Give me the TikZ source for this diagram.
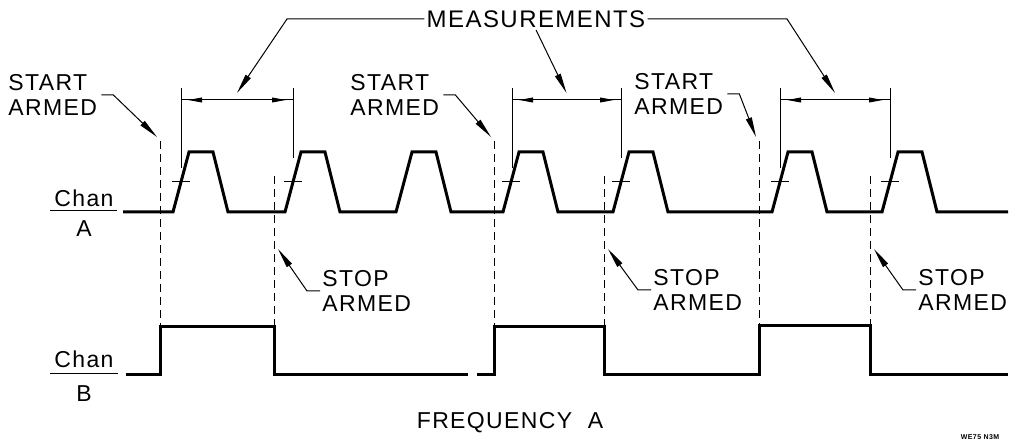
\documentclass[tikz,border=0pt]{standalone}
\usepackage{fontspec}
\setmainfont{Liberation Sans}[LetterSpace=6]
\usetikzlibrary{arrows.meta,positioning}

\begin{document}
\begin{tikzpicture}[
    x=0.5pt, y=-0.5pt,
    font=\fontsize{11.5}{12.5}\selectfont,
    wave/.style={line width=1.5pt, line join=miter},
    fine/.style={line width=0.5pt},
    armed/.style={line width=0.5pt, dash pattern=on 4pt off 2.5pt},
    leader/.style={fine, -{Triangle[length=10pt,width=3pt]}},
    dimarrow/.style={fine, {Triangle[length=7pt,width=2.4pt]}-{Triangle[length=7pt,width=2.4pt]}},
    lbl/.style={inner sep=0pt, align=left, anchor=west}
]
    \useasboundingbox (0,0) rectangle (1010,442);

    % channel A pulse train
    \draw[wave] (123,212) foreach \s in {173,285,396,503,613,772,882} {
        -- (\s,212) -- (\s+16,152) -- (\s+40,152) -- (\s+55,212) } -- (1008,212);
    \foreach \s in {173,285,503,613,772,882}
        \draw[fine] (\s-1,182) -- (\s+17,182);

    % channel B gate
    \draw[wave] (126,375) -- (160,375) -- (160,327) -- (274,327) -- (274,375) -- (468,375);
    \draw[wave] (477,375) -- (494,375) -- (494,327) -- (604,327) -- (604,375)
        -- (759,375) -- (759,326) -- (870,326) -- (870,375) -- (1008,375);

    % channel labels
    \node[inner sep=0pt, anchor=base] (chanA) at (84,207) {Chan};
    \draw[fine] (50,211) -- (117,211);
    \node[inner sep=0pt, anchor=north] (chanAsub) at (84,220) {A};
    \node[inner sep=0pt, anchor=base] (chanB) at (84,368) {Chan};
    \draw[fine] (50,374) -- (118,374);
    \node[inner sep=0pt, anchor=north] (chanBsub) at (84,385) {B};

    % arming lines
    \foreach \x [count=\i] in {160,494,759} {
        \coordinate (sa\i) at (\x-3,137);
        \draw[armed] (\x,141) -- (\x,327);
    }
    \foreach \x [count=\i] in {274,604,870} {
        \coordinate (so\i) at (\x+4,249);
        \draw[armed] (\x,176) -- (\x,327);
    }

    % measurement intervals
    \foreach \l/\r [count=\i] in {181/293, 512/621, 780/890} {
        \draw[fine] (\l,88) -- (\l,168);
        \draw[fine] (\r,88) -- (\r,158);
        \draw[fine] (\l,100) -- (\r,100);
        \draw[dimarrow] (\l+7,100) -- (\r-7,100);
        \coordinate (dim\i) at ({(\l+\r)/2},93);
    }

    \node[inner sep=1pt, font=\fontsize{12}{14}\selectfont] (meas) at (536,19) {MEASUREMENTS};
    \draw[leader] (meas.west) -- (287,19) -- (dim1);
    \draw[leader] (meas.south) -- (dim2);
    \draw[leader] (meas.east) -- (787,19) -- (dim3);

    % start / stop labels
    \node[lbl] (start1) at (8,95) {START\\ARMED};
    \node[lbl] (start2) at (350,95) {START\\ARMED};
    \node[lbl] (start3) at (634,94) {START\\ARMED};
    \draw[leader] ([xshift=2pt]start1.east) -- ++(12,0) -- (sa1);
    \draw[leader] ([xshift=2pt]start2.east) -- ++(12,0) -- (sa2);
    \draw[leader] ([xshift=2pt]start3.east) -- ++(12,0) -- (sa3);

    \node[lbl] (stop1) at (322,291) {STOP\\ARMED};
    \node[lbl] (stop2) at (653,290) {STOP\\ARMED};
    \node[lbl] (stop3) at (918,290) {STOP\\ARMED};
    \draw[leader] ([xshift=-1pt]stop1.west) -- ++(-13,0) -- (so1);
    \draw[leader] ([xshift=-1pt]stop2.west) -- ++(-13,0) -- (so2);
    \draw[leader] ([xshift=-1pt]stop3.west) -- ++(-13,0) -- (so3);

    \node (caption) at (510,423) {FREQUENCY~~A};
    \node[inner sep=0pt, font=\fontsize{3.5}{4}\selectfont\bfseries] (code) at (980,437) {WE75 N3M};
\end{tikzpicture}
\end{document}
